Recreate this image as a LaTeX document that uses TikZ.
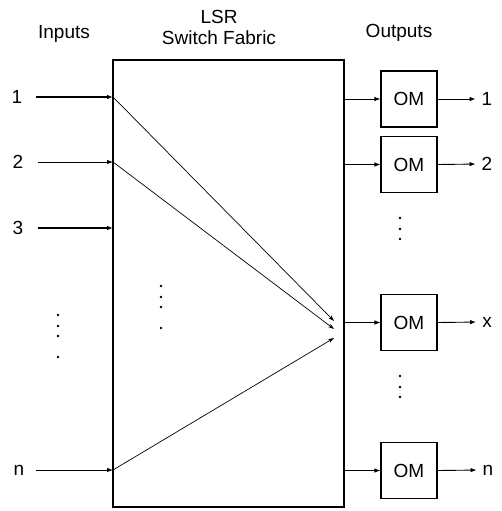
\documentclass[tikz,border=0pt]{standalone}
\usepackage{fontspec}
\setmainfont{Liberation Sans}
\usetikzlibrary{arrows.meta}
\begin{document}
\begin{tikzpicture}[x=1pt,y=-1pt,
  lbl/.style={font=\fontsize{19}{21}\selectfont, inner sep=1pt},
  ombox/.style={draw, line width=1.1pt, minimum width=56pt, minimum height=56pt, inner sep=0pt, font=\fontsize{19}{21}\selectfont},
  inarrow/.style={line width=1.1pt, -{Latex[length=6pt,width=4.5pt]}},
  thinarrow/.style={line width=0.7pt, -{Stealth[length=6pt,width=4pt]}},
  dotc/.style={circle, fill, inner sep=0pt, minimum size=2.6pt}]
\useasboundingbox (0,0) rectangle (501,511);
% titles
\node[lbl] (tin) at (64,34) {Inputs};
\node[lbl, align=center] (tfab) at (219,27) {LSR\\Switch Fabric};
\node[lbl] (tout) at (399,33) {Outputs};
% fabric
\node[draw, line width=1.3pt, minimum width=231pt, minimum height=447pt, inner sep=0pt] (fab) at (228.5,283.5) {};
% inputs
\node[lbl] (i1) at (17,97) {1};
\node[lbl] (i2) at (18,162) {2};
\node[lbl] (i3) at (18,228) {3};
\node[lbl] (in) at (19,470) {n};
\coordinate (s1) at (36,97);
\coordinate (s2) at (38,162);
\coordinate (s3) at (38,228);
\coordinate (sn) at (36,470);
\coordinate (f1) at (113,97);
\coordinate (f2) at (113,162);
\coordinate (f3) at (113,228);
\coordinate (fn) at (113,470);
\draw[inarrow] (s1) -- (f1);
\draw[inarrow, line width=0.8pt] (s2) -- (f2);
\draw[inarrow] (s3) -- (f3);
\draw[inarrow, line width=0.8pt] (sn) -- (fn);
% converging paths
\coordinate (c1) at (334,321);
\coordinate (c2) at (334,329);
\coordinate (c3) at (334,338);
\draw[thinarrow] (f1) -- (c1);
\draw[thinarrow] (f2) -- (c2);
\draw[thinarrow] (fn) -- (c3);
% dots
\foreach \y [count=\k] in {315,326,336,357} \node[dotc] (ld\k) at (58,\y) {};
\foreach \y [count=\k] in {286,297,307,328} \node[dotc] (md\k) at (161,\y) {};
\foreach \y [count=\k] in {218,229,239} \node[dotc] (rd\k) at (400,\y) {};
\foreach \y [count=\k] in {376,387,397} \node[dotc] (sd\k) at (400,\y) {};
% output modules
\node[ombox] (om1) at (409,99) {OM};
\node[ombox] (om2) at (409,164.5) {OM};
\node[ombox] (omx) at (409,322.5) {OM};
\node[ombox] (omn) at (409,470.5) {OM};
\foreach \o/\y in {om1/99, om2/164.5, omx/322.5, omn/470.5} {
  \coordinate (e\o) at (344,\y);
  \draw[inarrow, line width=0.9pt] (e\o) -- (\o.west);
}
\node[lbl] (o1) at (487,99) {1};
\node[lbl] (o2) at (487,164) {2};
\node[lbl] (ox) at (487,322) {x};
\node[lbl] (on) at (488,470) {n};
\draw[inarrow, line width=0.9pt, shorten >=5pt] (om1.east) -- (o1.west);
\draw[inarrow, line width=0.9pt, shorten >=5pt] (om2.east) -- (o2.west);
\draw[inarrow, line width=0.9pt, shorten >=5pt] (omx.east) -- (ox.west);
\draw[inarrow, line width=0.9pt, shorten >=5pt] (omn.east) -- (on.west);
\end{tikzpicture}
\end{document}
